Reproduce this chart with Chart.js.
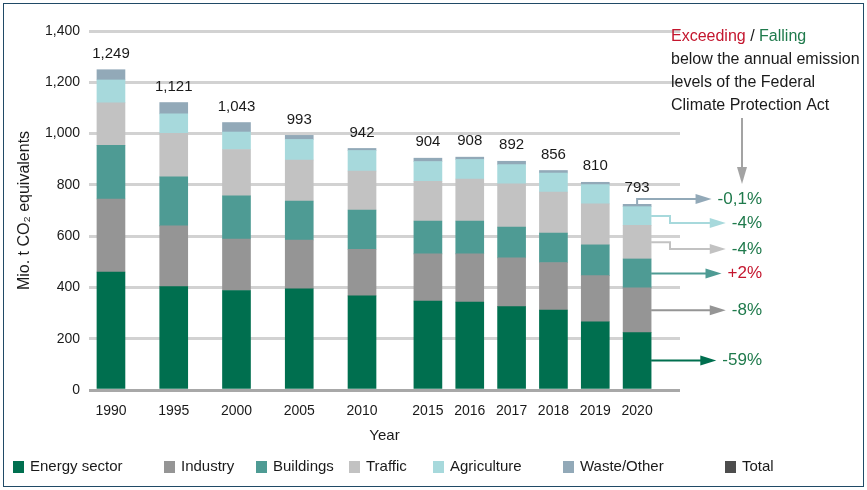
<!DOCTYPE html>
<html lang="en">
<head>
<meta charset="UTF-8">
<title>Greenhouse gas emissions by sector</title>
<script src="https://cdn.jsdelivr.net/npm/chart.js@4.4.1/dist/chart.umd.min.js"></script>
<style>
  html, body { margin: 0; padding: 0; background: #fff; }
  #wrap { position: relative; width: 867px; height: 490px; }
  #frame { position: absolute; left: 3px; top: 3px; width: 861px; height: 484px; box-sizing: border-box;
           border: 1.5px solid #204a66; pointer-events: none; }
</style>
</head>
<body>
<div id="wrap">
  <canvas id="c" width="867" height="490"></canvas>
  <div id="frame"></div>
</div>
<script>
// data (Mio. t CO2 equivalents)
const years = ['1990', '1995', '2000', '2005', '2010', '2015', '2016', '2017', '2018', '2019', '2020'];
const energy = [460, 403, 388, 395, 367, 347, 343, 325, 312, 266, 224];
const industry = [285, 237, 201, 190, 182, 184, 188, 190, 185, 180, 174];
const buildings = [209, 191, 168, 152, 153, 128, 128, 120, 115, 120, 113];
const traffic = [166, 170, 181, 160, 152, 155, 164, 169, 160, 160, 131];
const agriculture = [89, 76, 68, 80, 80, 77, 76, 75, 74, 75, 73];
const waste = [40, 44, 37, 16, 8, 13, 9, 13, 10, 9, 9];
const totals = [1249, 1121, 1043, 993, 942, 904, 908, 892, 856, 810, 793];
const sectorNames = ['Energy sector', 'Industry', 'Buildings', 'Traffic', 'Agriculture', 'Waste/Other'];
const changes2020 = ['-59%', '-8%', '+2%', '-4%', '-4%', '-0,1%'];
const yTicks = [0, 200, 400, 600, 800, 1000, 1200, 1400];

const series = [energy, industry, buildings, traffic, agriculture, waste];
const sectorColors = ['#006f4f', '#959595', '#4e9b94', '#c2c2c2', '#a7d9dc', '#92a9b8'];
const totalColor = '#4d4d4d';
const red = '#c4162e', green = '#1f7a4c';
const textColor = '#1a1a1a';
const fontFamily = "'Liberation Sans', Arial, sans-serif";

// 5-year steps sit 1.5x as far apart as the single years
function slotOf(year) {
  const y = +year;
  return y <= 2010 ? (y - 1990) * 0.6 : 15.15 + (y - 2015) * 2;
}
const xPos = years.map(slotOf);

const datasets = sectorNames.map((name, k) => ({
  label: name,
  data: series[k].map((v, i) => ({ x: xPos[i], y: v })),
  backgroundColor: sectorColors[k],
  barThickness: 28,
  borderWidth: 0
}));

const totalsPlugin = {
  id: 'totals',
  afterDatasetsDraw(chart) {
    const ctx = chart.ctx;
    const topMeta = chart.getDatasetMeta(chart.data.datasets.length - 1);
    ctx.save();
    ctx.font = '15px ' + fontFamily;
    ctx.fillStyle = textColor;
    ctx.textAlign = 'center';
    ctx.textBaseline = 'middle';
    topMeta.data.forEach((bar, i) => {
      ctx.fillText(totals[i].toLocaleString('en-US'), bar.x, bar.y - 16);
    });
    ctx.restore();
  }
};

function head(ctx, x, y, dx, dy, len, half) {
  // triangle pointing along (dx, dy)
  ctx.beginPath();
  ctx.moveTo(x, y);
  ctx.lineTo(x - dx * len - dy * half, y - dy * len - dx * half);
  ctx.lineTo(x - dx * len + dy * half, y - dy * len + dx * half);
  ctx.closePath();
  ctx.fill();
}

const notesPlugin = {
  id: 'notes',
  afterDraw(chart) {
    const ctx = chart.ctx;
    const last = years.length - 1;
    const labelRight = 762, elbowX = 670;
    const fixedY = [null, null, null, 249, 223, 199];
    ctx.save();

    // arrows to the 2020 changes
    ctx.font = '17px ' + fontFamily;
    ctx.textAlign = 'right';
    ctx.textBaseline = 'middle';
    ctx.lineWidth = 2;
    chart.data.datasets.forEach((ds, k) => {
      const bar = chart.getDatasetMeta(k).data[last];
      const mid = (bar.y + bar.base) / 2;
      const txt = changes2020[k];
      const ty = fixedY[k] ?? mid;
      const tipX = labelRight - ctx.measureText(txt).width - 6;
      ctx.strokeStyle = ds.backgroundColor;
      ctx.fillStyle = ds.backgroundColor;
      ctx.beginPath();
      if (k === chart.data.datasets.length - 1) {
        ctx.moveTo(bar.x, bar.y);
        ctx.lineTo(bar.x, ty);
      } else {
        ctx.moveTo(bar.x + bar.width / 2, mid);
        if (fixedY[k] !== null) {
          ctx.lineTo(elbowX, mid);
          ctx.lineTo(elbowX, ty);
        }
      }
      ctx.lineTo(tipX - 10, ty);
      ctx.stroke();
      head(ctx, tipX, ty, 1, 0, 16, 5);
      ctx.fillStyle = txt.startsWith('+') ? red : green;
      ctx.fillText(txt, labelRight, ty);
    });

    // explanatory note
    ctx.font = '16px ' + fontFamily;
    ctx.textAlign = 'left';
    let x = 671;
    [['Exceeding', red], [' / ', textColor], ['Falling', green]].forEach(([t, c]) => {
      ctx.fillStyle = c;
      ctx.fillText(t, x, 37);
      x += ctx.measureText(t).width;
    });
    ctx.fillStyle = textColor;
    ['below the annual emission', 'levels of the Federal', 'Climate Protection Act'].forEach((t, i) => {
      ctx.fillText(t, 671, 60 + i * 23);
    });
    ctx.strokeStyle = ctx.fillStyle = '#a3a3a3';
    ctx.beginPath();
    ctx.moveTo(742, 118);
    ctx.lineTo(742, 170);
    ctx.stroke();
    head(ctx, 742, 184, 0, 1, 17, 5);

    // legend
    const items = sectorNames.map((n, k) => [n, sectorColors[k]]).concat([['Total', totalColor]]);
    const legendX = [13, 164, 256, 349, 433, 563, 725];
    ctx.font = '15px ' + fontFamily;
    items.forEach(([n, c], i) => {
      ctx.fillStyle = c;
      ctx.fillRect(legendX[i], 461, 11, 12);
      ctx.fillStyle = textColor;
      ctx.fillText(n, legendX[i] + 17, 467);
    });
    ctx.restore();
  }
};

new Chart(document.getElementById('c'), {
  type: 'bar',
  data: { datasets },
  options: {
    responsive: false,
    animation: false,
    layout: { padding: { top: 31, right: 187, bottom: 40, left: 0 } },
    plugins: { legend: { display: false }, tooltip: { enabled: false } },
    scales: {
      x: {
        type: 'linear',
        stacked: true,
        offset: false,
        min: -1.05,
        max: 27.2,
        grid: { display: false },
        border: { display: false },
        afterBuildTicks: s => { s.ticks = xPos.map(v => ({ value: v })); },
        afterFit: s => { s.height = 60; },
        ticks: {
          autoSkip: false,
          maxRotation: 0,
          padding: 5,
          color: textColor,
          font: { family: fontFamily, size: 14 },
          callback: (v, i) => years[i]
        },
        title: {
          display: true,
          text: 'Year',
          color: textColor,
          font: { family: fontFamily, size: 15 },
          padding: { top: 0, bottom: 5 }
        }
      },
      y: {
        stacked: true,
        min: 0,
        max: 1400,
        afterBuildTicks: s => { s.ticks = yTicks.map(v => ({ value: v })); },
        afterFit: s => { s.width = 89; },
        grid: {
          color: c => c.tick && c.tick.value === 0 ? '#a8a8a8' : '#d2d2d2',
          lineWidth: 3,
          drawTicks: false
        },
        border: { display: false },
        ticks: {
          padding: 9,
          color: textColor,
          font: { family: fontFamily, size: 14 },
          callback: v => v.toLocaleString('en-US')
        },
        title: {
          display: true,
          text: 'Mio. t CO₂ equivalents',
          color: textColor,
          font: { family: fontFamily, size: 16 },
          padding: { top: 15, bottom: 0 }
        }
      }
    }
  },
  plugins: [totalsPlugin, notesPlugin]
});
</script>
</body>
</html>
